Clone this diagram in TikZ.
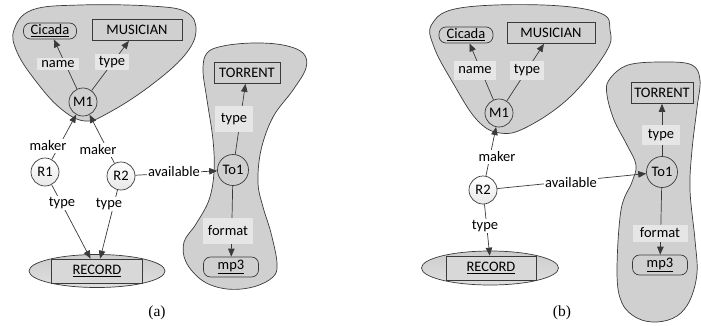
\documentclass[tikz,border=0pt]{standalone}
\usepackage{fontspec}
\setmainfont{Carlito}
\newfontfamily\capfont{Liberation Serif}
\usetikzlibrary{arrows.meta,shapes.geometric}
\definecolor{blobgray}{HTML}{D0D0D0}
\definecolor{lblgray}{HTML}{E6E6E6}
\definecolor{linegray}{HTML}{3A3A3A}
\definecolor{recgray}{HTML}{D8D8D8}
\begin{document}
\begin{tikzpicture}[x=1pt,y=-1pt, font=\fontsize{14.5}{17}\selectfont,
 blob/.style={draw=linegray, line width=0.7pt, fill=blobgray},
 litbox/.style={draw=linegray, line width=0.7pt, fill=blobgray, rounded corners=7pt, minimum width=53pt, minimum height=16pt, inner sep=1pt},
 clsbox/.style={draw=linegray, line width=0.7pt, fill=blobgray, minimum height=21pt, inner sep=2pt},
 resnode/.style={circle, draw=linegray, line width=0.7pt, fill=blobgray, minimum size=28pt, inner sep=0pt},
 bnode/.style={circle, draw=linegray, line width=0.7pt, top color=white, bottom color=gray!18, minimum size=28pt, inner sep=0pt},
 conn/.style={draw=linegray, line width=0.7pt},
 arr/.style={conn, -{Triangle[length=8pt,width=6.5pt]}},
 lblin/.style={fill=lblgray, inner xsep=4pt, inner ysep=2pt},
 lblout/.style={fill=white, inner sep=1.5pt},
 recbg/.style={ellipse, draw=linegray, line width=0.7pt, top color=gray!40, bottom color=gray!25, minimum width=136pt, minimum height=33pt},
 recbox/.style={draw=linegray, line width=0.7pt, fill=recgray, minimum width=91pt, minimum height=24pt, inner sep=1pt},
 captxt/.style={font=\capfont\fontsize{15.5}{18}\selectfont}]
\useasboundingbox (0,0) rectangle (701,325);

% ---------- blobs ----------
\draw[blob] plot[smooth cycle, tension=0.65] coordinates {(14,30) (32,10) (80,5) (150,6) (186,12) (196,31) (184,56) (150,86) (110,112) (85,121) (60,108) (35,80) (17,52)};
\draw[blob] plot[smooth cycle, tension=0.6] coordinates {(207,53) (223,46) (253,43) (283,45) (303,53) (306,68) (293,90) (273,117) (261,150) (258,183) (263,207) (271,233) (277,263) (273,277) (253,287) (227,289) (203,281) (186,262) (184,242) (196,224) (209,200) (214,172) (213,140) (207,100) (203,70)};
\draw[blob] plot[smooth cycle, tension=0.65] coordinates {(432,24) (460,8) (543,5) (600,13) (610,30) (606,52) (570,97) (527,127) (500,133) (477,120) (453,83) (434,47)};
\draw[blob] plot[smooth cycle, tension=0.6] coordinates {(609,80) (628,65) (665,62) (692,65) (700,80) (697,108) (692,150) (690,190) (695,240) (697,273) (690,300) (677,316) (657,322) (637,318) (622,303) (617,273) (621,210) (632,182) (636,165) (627,145) (614,120) (607,95)};

% ---------- panel (a) nodes ----------
\node[litbox] (Cia) at (50,31) {\underline{Cicada}};
\node[clsbox, minimum width=90pt] (Musa) at (137,30) {MUSICIAN};
\node[resnode] (M1a) at (83,102) {M1};
\node[bnode] (R1a) at (45,172) {R1};
\node[bnode] (R2a) at (121,176) {R2};
\node[resnode, minimum size=31pt] (To1a) at (233,170) {To1};
\node[clsbox, minimum width=66pt] (Tora) at (247,73) {TORRENT};
\node[litbox, minimum width=55pt, minimum height=20pt] (mp3a) at (231,267) {\underline{mp3}};
\node[recbg] (RecEa) at (97,271) {};
\node[recbox] (Reca) at (97,271) {\underline{RECORD}};

% ---------- panel (a) edges ----------
\draw[arr] (M1a) -- (Cia);
\draw[arr] (M1a) -- (Musa);
\draw[arr] (R1a) -- (M1a);
\draw[arr] (R2a) -- (M1a);
\draw[arr] (R2a) -- (To1a);
\draw[arr] (To1a) -- (Tora);
\draw[arr] (To1a) -- (mp3a);
\draw[arr] (R1a) -- (Reca);
\draw[arr] (R2a) -- (Reca);

% ---------- panel (a) labels ----------
\node[lblin] (lnamea) at (58,64) {name};
\node[lblin] (ltypea) at (112,62) {type};
\node[lblout] (lmk1a) at (48,146) {maker};
\node[lblout] (lmk2a) at (98,150) {maker};
\node[lblout] (ltr1a) at (62,203) {type};
\node[lblout] (ltr2a) at (109,204) {type};
\node[lblout] (lavla) at (174,172) {available};
\node[lblin, minimum width=38pt, minimum height=26pt] (ltta) at (234,119) {type};
\node[lblin, minimum width=50pt, minimum height=26pt] (lfma) at (228,231) {format};
\node[captxt] (capa) at (157,313) {(a)};

% ---------- panel (b) nodes ----------
\node[litbox, minimum width=54pt] (Cib) at (466,35) {\underline{Cicada}};
\node[clsbox, minimum width=88pt] (Musb) at (551,33) {MUSICIAN};
\node[resnode] (M1b) at (499,113) {M1};
\node[bnode] (R2b) at (483,190) {R2};
\node[resnode, minimum size=31pt] (To1b) at (662,172) {To1};
\node[clsbox, minimum width=62pt] (Torb) at (662,93) {TORRENT};
\node[litbox, minimum width=55pt, minimum height=20pt] (mp3b) at (660,265) {\underline{mp3}};
\node[recbg, minimum width=137pt, minimum height=34pt] (RecEb) at (490,268) {};
\node[recbox, minimum width=90pt] (Recb) at (491,268) {\underline{RECORD}};

% ---------- panel (b) edges ----------
\draw[arr] (M1b) -- (Cib);
\draw[arr] (M1b) -- (Musb);
\draw[arr] (R2b) -- (M1b);
\draw[arr] (R2b) -- (To1b);
\draw[arr] (To1b) -- (Torb);
\draw[arr] (To1b) -- (mp3b);
\draw[arr] (R2b) -- (Recb);

% ---------- panel (b) labels ----------
\node[lblin, minimum height=19pt] (lnameb) at (475,70) {name};
\node[lblin, minimum height=19pt] (ltypeb) at (527,70) {type};
\node[lblout] (lmkb) at (497,157) {maker};
\node[lblout] (lavlb) at (571,183) {available};
\node[lblout] (ltrb) at (485,226) {type};
\node[lblin, minimum width=38pt, minimum height=20pt] (lttb) at (661,135) {type};
\node[lblin, minimum width=55pt, minimum height=17pt] (lfmb) at (660,233) {format};
\node[captxt] (capb) at (562,313) {(b)};
\end{tikzpicture}
\end{document}
